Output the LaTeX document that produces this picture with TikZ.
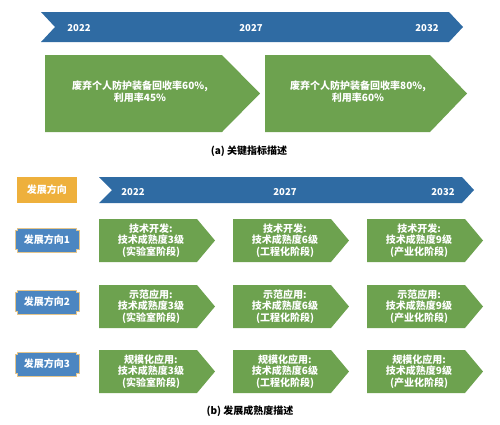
\documentclass[tikz,border=0pt]{standalone}
\usepackage{fontspec}
\setmainfont{Noto Sans CJK SC}
\definecolor{barblue}{RGB}{47,107,163}
\definecolor{tagblue}{RGB}{76,134,193}
\definecolor{tagborder}{RGB}{228,197,140}
\definecolor{stagegreen}{RGB}{109,162,79}
\definecolor{headorange}{RGB}{238,176,60}
\begin{document}
\begin{tikzpicture}[x=1pt, y=-1pt]
    \tikzset{
        timeline/.style={fill=barblue},
        stagebox/.style={fill=stagegreen},
        tagbox/.style={fill=tagblue, draw=tagborder, line width=0.7pt},
        yeartext/.style={white, font=\fontsize{9.5}{11}\selectfont\bfseries},
        boxtext/.style={white, align=center, font=\fontsize{10}{11.5}\selectfont\bfseries},
        goaltext/.style={white, text width=170pt, align=center, font=\fontsize{10}{12}\selectfont\bfseries},
        captext/.style={font=\fontsize{10}{12}\selectfont\bfseries}
    }
    \useasboundingbox (0,0) rectangle (500,424);

    % --- (a) KEY INDICATORS ---
    \fill[timeline] (41,12) -- (449,12) -- (463,27) -- (449,42) -- (41,42) -- (55,27) -- cycle;
    \foreach \x/\yr in {79/2022,251/2027,427/2032} {
        \node[yeartext] (topyear-\yr) at (\x,28) {\yr};
    }

    % Objectifs
    \foreach \i/\l/\r/\t/\cx/\pa/\pb in {1/45/222/260/140/60/45, 2/265/430/467/358/80/60} {
        \fill[stagebox] (\l,55) -- (\r,55) -- (\t,93.5) -- (\r,132) -- (\l,132) -- cycle;
        \node[goaltext] (goal-\i) at (\cx,92) {废弃个人防护装备回收率\pa\%,\\利用率\pb\%};
    }

    \node[captext] (cap-a) at (249,151) {(a) 关键指标描述};

    % --- (b) MATURITY ---
    \fill[headorange] (17,177) rectangle (77,203);
    \node[white, font=\fontsize{10}{12}\selectfont\bfseries] (dirhead) at (47,190) {发展方向};

    \fill[timeline] (99,177) -- (462,177) -- (474,190) -- (462,203) -- (99,203) -- (112,190) -- cycle;
    \foreach \x/\yr in {133/2022,285/2027,443/2032} {
        \node[yeartext] (year-\yr) at (\x,192) {\yr};
    }

    % Directions
    \foreach \row/\cy in {1/240,2/302,3/364} {
        \filldraw[tagbox] (17.5,\cy-12) -- (76.5,\cy-12) -- (76.5,\cy-9.5) -- (79,\cy-9.5)
            -- (79,\cy+9.5) -- (76.5,\cy+9.5) -- (76.5,\cy+12) -- (17.5,\cy+12)
            -- (17.5,\cy+9.5) -- (15,\cy+9.5) -- (15,\cy-9.5) -- (17.5,\cy-9.5) -- cycle;
        \node[white, font=\fontsize{10}{12}\selectfont\bfseries] (dir-\row) at (47,\cy) {发展方向\row};
    }

    % Etapes
    \foreach \row/\top/\stage in {1/219/技术开发,2/285/示范应用,3/350/规模化应用} {
        \foreach \col/\lft/\lvl/\phase in {1/99/3/实验室阶段,2/233/6/工程化阶段,3/367/9/产业化阶段} {
            \fill[stagebox] (\lft,\top) -- ++(98,0) -- ++(18,21.5) -- ++(-18,21.5) -- ++(-98,0) -- cycle;
            \node[boxtext] (stage-\row-\col) at (\lft+52,\top+21.5) {\stage:\\技术成熟度\lvl 级\\(\phase)};
        }
    }

    \node[captext] (cap-b) at (250,411) {(b) 发展成熟度描述};

\end{tikzpicture}
\end{document}
